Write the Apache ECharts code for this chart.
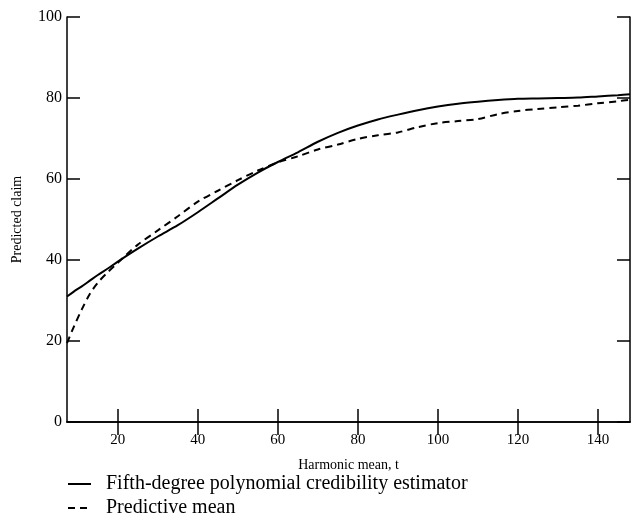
<!DOCTYPE html>
<html>
<head>
<meta charset="utf-8">
<script src="https://cdn.jsdelivr.net/npm/echarts@6/dist/echarts.min.js"></script>
<style>
  html, body { margin: 0; padding: 0; background: #fff; }
  #chart { width: 631px; height: 521px; }
</style>
</head>
<body>
<div id="chart"></div>
<script>
// Harmonic mean t (x) and the two predicted-claim curves
const tValues     = [7.3, 9, 11, 13, 15, 17.5, 20, 25, 30, 35, 40, 45, 50, 55, 60, 65, 70, 75, 80, 85, 90, 95, 100, 105, 110, 115, 120, 125, 130, 135, 140, 145, 148];
const credibility = [31.0, 32.2, 33.5, 34.9, 36.3, 37.9, 39.6, 42.8, 45.8, 48.6, 51.8, 55.2, 58.6, 61.6, 64.2, 66.6, 69.2, 71.4, 73.2, 74.7, 75.9, 77.0, 77.9, 78.6, 79.1, 79.5, 79.8, 79.9, 80.0, 80.1, 80.4, 80.7, 80.9];
const predictive  = [19.5, 23.5, 27.8, 31.6, 34.4, 37.0, 39.3, 43.8, 47.3, 50.8, 54.4, 57.1, 59.7, 62.1, 64.1, 65.6, 67.3, 68.5, 69.9, 70.8, 71.5, 72.8, 73.8, 74.3, 74.8, 76.0, 76.8, 77.3, 77.7, 78.1, 78.7, 79.2, 79.6];
const xTicks = [20, 40, 60, 80, 100, 120, 140];

const serif = '"Liberation Serif", "DejaVu Serif", serif';
const pairs = ys => tValues.map((t, i) => [t, ys[i]]);

const xBase = {
  type: 'value', min: 7.3, max: 148,
  axisLine: { show: true, lineStyle: { color: '#000', width: 1.5 } },
  axisTick: { show: true, inside: true, length: 13, customValues: xTicks, lineStyle: { color: '#000', width: 1.5 } },
  splitLine: { show: false }
};
const yBase = {
  type: 'value', min: 0, max: 100, interval: 20,
  axisLine: { show: true, lineStyle: { color: '#000', width: 1.5 } },
  axisTick: { show: true, inside: true, length: 13, lineStyle: { color: '#000', width: 1.5 } },
  splitLine: { show: false }
};

const chart = echarts.init(document.getElementById('chart'), null, { renderer: 'canvas' });
chart.setOption({
  animation: false,
  backgroundColor: '#fff',
  grid: { left: 67, right: 1, top: 17, bottom: 99 },
  xAxis: [
    Object.assign({}, xBase, {
      position: 'bottom',
      name: 'Harmonic mean, t',
      nameLocation: 'middle',
      nameGap: 36,
      nameTextStyle: { fontFamily: serif, fontSize: 14, color: '#000' },
      axisLabel: { customValues: xTicks, margin: 11, fontFamily: serif, fontSize: 15, color: '#000' }
    }),
    Object.assign({}, xBase, { position: 'top', axisLabel: { show: false } })
  ],
  yAxis: [
    Object.assign({}, yBase, {
      position: 'left',
      name: 'Predicted claim',
      nameLocation: 'middle',
      nameGap: 43,
      nameTextStyle: { fontFamily: serif, fontSize: 14, color: '#000' },
      axisLabel: { margin: 5, fontFamily: serif, fontSize: 16, color: '#000' }
    }),
    Object.assign({}, yBase, { position: 'right', axisLabel: { show: false } })
  ],
  legend: {
    orient: 'vertical',
    left: 67, top: 474,
    padding: 0,
    itemWidth: 23, itemHeight: 14, itemGap: 4,
    // hide the marker circle, keep only the line sample
    itemStyle: { color: 'rgba(0,0,0,0)', borderColor: 'rgba(0,0,0,0)', borderWidth: 0 },
    textStyle: { fontFamily: serif, fontSize: 20, color: '#000', padding: [0, 0, 0, 10] },
    data: ['Fifth-degree polynomial credibility estimator', 'Predictive mean']
  },
  series: [
    {
      name: 'Fifth-degree polynomial credibility estimator',
      type: 'line', smooth: 0.3, symbol: 'none',
      lineStyle: { color: '#000', width: 2 },
      itemStyle: { color: '#000' },
      data: pairs(credibility)
    },
    {
      name: 'Predictive mean',
      type: 'line', smooth: 0.3, symbol: 'none',
      lineStyle: { color: '#000', width: 2, type: [7, 5] },
      itemStyle: { color: '#000' },
      data: pairs(predictive)
    }
  ]
});
</script>
</body>
</html>
